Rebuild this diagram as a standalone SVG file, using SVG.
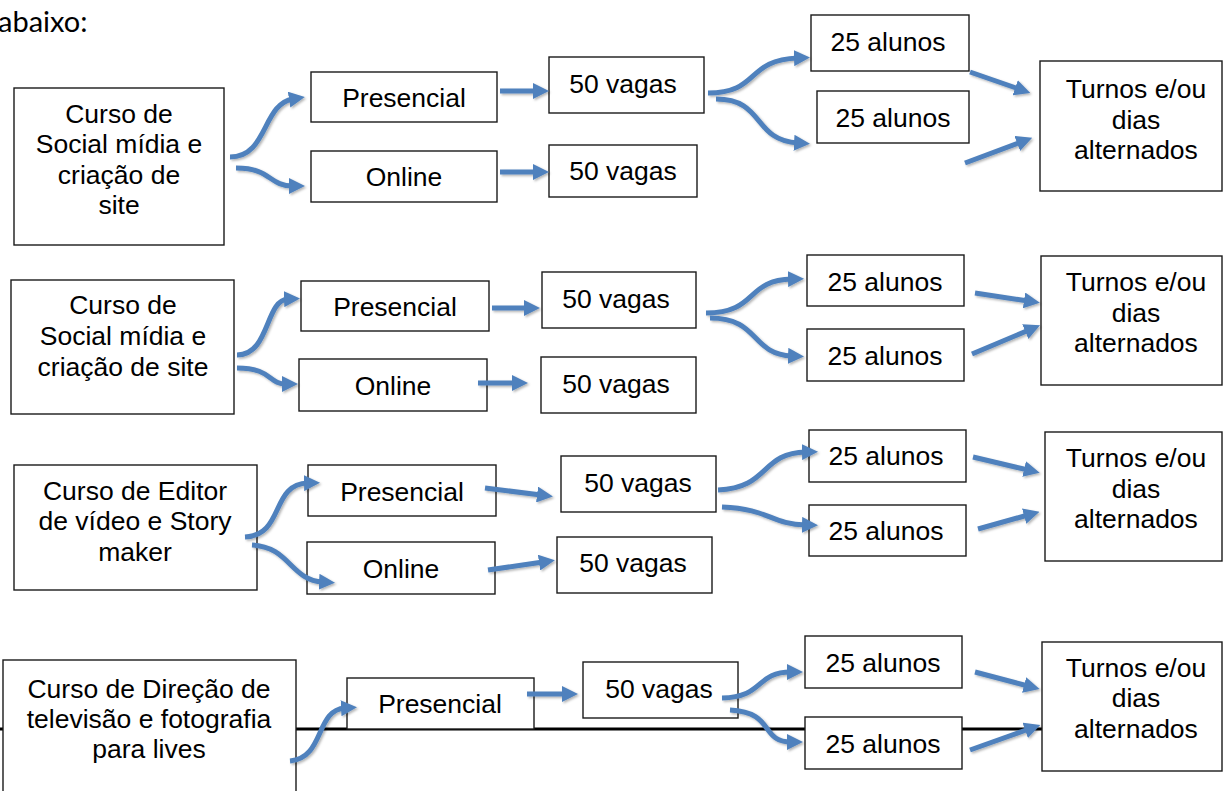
<svg xmlns="http://www.w3.org/2000/svg" width="1223" height="791" viewBox="0 0 1223 791">
<style>
.b{fill:#fff;stroke:#1a1a1a;stroke-width:1.4}
.t{font-family:"Liberation Sans",Arial,sans-serif;font-size:26.5px;fill:#000;text-anchor:middle}
.c{fill:none;stroke:#4F81BD;stroke-width:5;marker-end:url(#ah)}
</style>
<defs>
<marker id="ah" markerUnits="userSpaceOnUse" viewBox="0 0 16 16" markerWidth="16" markerHeight="16" refX="4" refY="8" orient="auto">
<path d="M0,0 L16,8 L0,16 Z" fill="#4F81BD"/>
</marker>
<filter id="sh" filterUnits="userSpaceOnUse" x="0" y="0" width="1223" height="791">
<feDropShadow dx="1.5" dy="1.5" stdDeviation="1" flood-color="#000" flood-opacity="0.3"/>
</filter>
</defs>
<rect width="1223" height="791" fill="#fff"/>
<text x="-2" y="32" font-family="Lato,'Open Sans',sans-serif" font-size="29" fill="#000">abaixo:</text>
<line x1="0" y1="729" x2="1042" y2="729" stroke="#000" stroke-width="3"/>

<g id="curso1"><rect class="b" x="14" y="88" width="210" height="157"/><text class="t" x="119" y="123">Curso de</text><text class="t" x="119" y="153">Social mídia e</text><text class="t" x="119" y="184">criação de</text><text class="t" x="119" y="214">site</text></g>
<g id="presencial1"><rect class="b" x="311" y="72" width="186" height="50"/><text class="t" x="404" y="107">Presencial</text></g>
<g id="online1"><rect class="b" x="311" y="151" width="186" height="51"/><text class="t" x="404" y="186">Online</text></g>
<g id="vagas1a"><rect class="b" x="549" y="57" width="155" height="56"/><text class="t" x="623" y="93">50 vagas</text></g>
<g id="vagas1b"><rect class="b" x="549" y="145" width="148" height="52"/><text class="t" x="623" y="180">50 vagas</text></g>
<g id="alunos1a"><rect class="b" x="811" y="15" width="158" height="56"/><text class="t" x="888" y="51">25 alunos</text></g>
<g id="alunos1b"><rect class="b" x="817" y="91" width="152" height="52"/><text class="t" x="893" y="127">25 alunos</text></g>
<g id="turnos1"><rect class="b" x="1040" y="61" width="182" height="130"/><text class="t" x="1136" y="98">Turnos e/ou</text><text class="t" x="1136" y="129">dias</text><text class="t" x="1136" y="159">alternados</text></g>

<g id="curso2"><rect class="b" x="11" y="280" width="223" height="134"/><text class="t" x="123" y="314">Curso de</text><text class="t" x="123" y="345">Social mídia e</text><text class="t" x="123" y="376">criação de site</text></g>
<g id="presencial2"><rect class="b" x="301" y="281" width="188" height="50"/><text class="t" x="395" y="316">Presencial</text></g>
<g id="online2"><rect class="b" x="299" y="359" width="188" height="52"/><text class="t" x="393" y="395">Online</text></g>
<g id="vagas2a"><rect class="b" x="542" y="272" width="154" height="56"/><text class="t" x="616" y="308">50 vagas</text></g>
<g id="vagas2b"><rect class="b" x="541" y="357" width="155" height="56"/><text class="t" x="616" y="393">50 vagas</text></g>
<g id="alunos2a"><rect class="b" x="807" y="255" width="157" height="51"/><text class="t" x="885" y="291">25 alunos</text></g>
<g id="alunos2b"><rect class="b" x="807" y="329" width="157" height="52"/><text class="t" x="885" y="365">25 alunos</text></g>
<g id="turnos2"><rect class="b" x="1041" y="256" width="181" height="129"/><text class="t" x="1136" y="291">Turnos e/ou</text><text class="t" x="1136" y="322">dias</text><text class="t" x="1136" y="352">alternados</text></g>

<g id="curso3"><rect class="b" x="14" y="465" width="243" height="125"/><text class="t" x="135" y="500">Curso de Editor</text><text class="t" x="135" y="530">de vídeo e Story</text><text class="t" x="135" y="561">maker</text></g>
<g id="presencial3"><rect class="b" x="308" y="465" width="188" height="51"/><text class="t" x="402" y="501">Presencial</text></g>
<g id="online3"><rect class="b" x="307" y="542" width="188" height="52"/><text class="t" x="401" y="578">Online</text></g>
<g id="vagas3a"><rect class="b" x="561" y="456" width="155" height="56"/><text class="t" x="638" y="492">50 vagas</text></g>
<g id="vagas3b"><rect class="b" x="557" y="537" width="155" height="56"/><text class="t" x="633" y="572">50 vagas</text></g>
<g id="alunos3a"><rect class="b" x="809" y="430" width="157" height="52"/><text class="t" x="886" y="465">25 alunos</text></g>
<g id="alunos3b"><rect class="b" x="809" y="505" width="157" height="51"/><text class="t" x="886" y="540">25 alunos</text></g>
<g id="turnos3"><rect class="b" x="1045" y="432" width="177" height="129"/><text class="t" x="1136" y="467">Turnos e/ou</text><text class="t" x="1136" y="498">dias</text><text class="t" x="1136" y="528">alternados</text></g>

<g id="curso4"><rect class="b" x="3" y="660" width="293" height="140"/><text class="t" x="149" y="698">Curso de Direção de</text><text class="t" x="149" y="728">televisão e fotografia</text><text class="t" x="149" y="758">para lives</text></g>
<g id="presencial4"><rect class="b" x="347" y="678" width="187" height="51"/><text class="t" x="440" y="713">Presencial</text></g>
<g id="vagas4"><rect class="b" x="583" y="662" width="155" height="56"/><text class="t" x="659" y="698">50 vagas</text></g>
<g id="alunos4a"><rect class="b" x="805" y="636" width="157" height="52"/><text class="t" x="883" y="672">25 alunos</text></g>
<g id="alunos4b"><rect class="b" x="805" y="717" width="157" height="52"/><text class="t" x="883" y="753">25 alunos</text></g>
<g id="turnos4"><rect class="b" x="1042" y="642" width="180" height="129"/><text class="t" x="1136" y="677">Turnos e/ou</text><text class="t" x="1136" y="707">dias</text><text class="t" x="1136" y="738">alternados</text></g>

<g id="connectors" filter="url(#sh)">
<path class="c" d="M230,157 C268,157 262,104 293,99"/>
<path class="c" d="M236,168 C272,168 268,186 293,186"/>
<path class="c" d="M500,91 L537,91"/>
<path class="c" d="M500,172 L537,172"/>
<path class="c" d="M708,93 C760,93 745,60 798,58"/>
<path class="c" d="M716,99 C765,99 752,140 798,143"/>
<path class="c" d="M970,72 L1019,89"/>
<path class="c" d="M965,163 L1021,142"/>

<path class="c" d="M237,355 C270,355 265,300 288,299"/>
<path class="c" d="M237,368 C272,368 268,384 286,384"/>
<path class="c" d="M492,308 L528,308"/>
<path class="c" d="M478,383 L516,383"/>
<path class="c" d="M706,313 C758,313 745,280 792,279"/>
<path class="c" d="M710,318 C760,318 750,354 792,356"/>
<path class="c" d="M975,293 L1028,301"/>
<path class="c" d="M972,354 L1029,330"/>

<path class="c" d="M245,537 C285,535 270,484 308,483"/>
<path class="c" d="M252,545 C290,547 290,580 323,582"/>
<path class="c" d="M485,488 L541,495"/>
<path class="c" d="M488,570 L543,562"/>
<path class="c" d="M718,490 C770,488 760,453 806,452"/>
<path class="c" d="M722,507 C770,509 770,524 806,525"/>
<path class="c" d="M973,457 L1028,470"/>
<path class="c" d="M978,529 L1028,515"/>

<path class="c" d="M290,761 C325,758 315,710 345,708"/>
<path class="c" d="M527,694 L566,694"/>
<path class="c" d="M722,698 C765,697 755,672 791,672"/>
<path class="c" d="M730,710 C775,712 760,742 791,742"/>
<path class="c" d="M975,672 L1028,686"/>
<path class="c" d="M970,750 L1029,729"/>
</g>
</svg>
